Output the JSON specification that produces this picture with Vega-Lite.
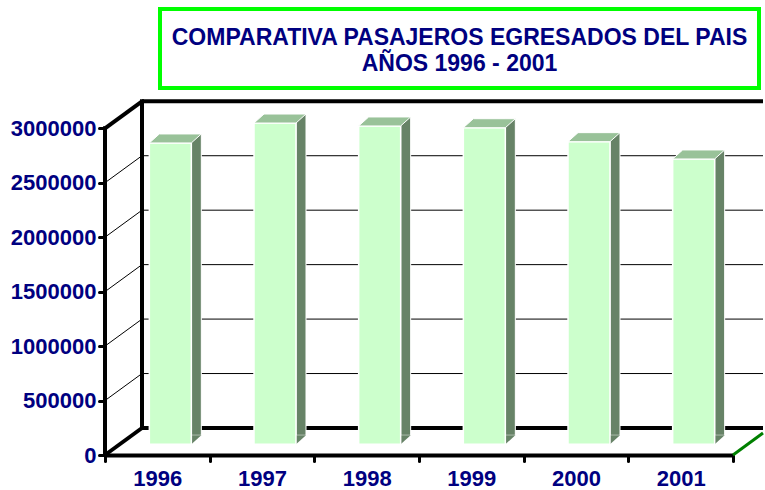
{
  "$schema": "https://vega.github.io/schema/vega-lite/v6.json",
  "padding": {"left": 10, "top": 7, "right": 0, "bottom": 0},
  "background": "white",
  "config": {"view": {"stroke": null}, "font": "Liberation Sans"},
  "bounds": "full",
  "spacing": 3,
  "datasets": {
    "pax": [
      {"year": "1996", "v": 2767000},
      {"year": "1997", "v": 2950000},
      {"year": "1998", "v": 2923000},
      {"year": "1999", "v": 2907000},
      {"year": "2000", "v": 2779000},
      {"year": "2001", "v": 2620000}
    ],
    "ticks": [
      {"year": "1996", "v": 0},
      {"year": "1996", "v": 500000},
      {"year": "1996", "v": 1000000},
      {"year": "1996", "v": 1500000},
      {"year": "1996", "v": 2000000},
      {"year": "1996", "v": 2500000},
      {"year": "1996", "v": 3000000}
    ],
    "edge": [{"year": "1996", "v": 0, "v2": 3000000}],
    "corner": [{"year": "2001", "v": 0}]
  },
  "vconcat": [
    {
      "hconcat": [
        {"width": 55, "height": 79, "data": {"values": []}, "mark": "point"},
        {
          "width": 599,
          "height": 79,
          "view": {"stroke": "#00FF00", "strokeWidth": 4},
          "data": {"values": [{"t": ["COMPARATIVA PASAJEROS EGRESADOS DEL PAIS", "AÑOS 1996 - 2001"]}]},
          "mark": {"type": "text", "font": "Liberation Sans", "fontWeight": "bold", "fontSize": 23, "color": "#000080", "lineHeight": 26.5, "baseline": "middle", "align": "center", "dy": -11},
          "encoding": {"text": {"field": "t"}}
        }
      ],
      "spacing": 0,
      "bounds": "flush"
    },
    {
      "width": 658,
      "height": 357,
      "layer": [
        {
          "data": {"name": "ticks"},
          "transform": [{"filter": "datum.v > 0 && datum.v < 3000000"}],
          "mark": {"type": "point", "shape": "M0 0 L621 0", "size": 4, "filled": false, "color": "black", "strokeWidth": 1, "opacity": 1, "xOffset": 37, "yOffset": -27},
          "encoding": {
            "x": {
              "field": "year", "type": "nominal", "title": null, "bandPosition": 0,
              "scale": {"type": "band", "range": [0, 628], "paddingInner": 0, "paddingOuter": 0},
              "axis": {"title": null, "bandPosition": 0.5, "domainWidth": 4, "domainColor": "black", "tickBand": "extent", "tickSize": 6, "tickWidth": 3, "tickColor": "black", "tickCap": "round", "labelFont": "Liberation Sans", "labelFontSize": 22, "labelFontWeight": "bold", "labelColor": "#000080", "labelPadding": 7, "labelAngle": 0, "labelAlign": "center", "labelBaseline": "top"}
            },
            "y": {
              "field": "v", "type": "quantitative", "title": null,
              "scale": {"domain": [0, 3278000], "nice": false, "zero": true},
              "axis": {"title": null, "values": [0, 500000, 1000000, 1500000, 2000000, 2500000, 3000000], "format": "d", "grid": false, "domain": false, "tickSize": 6, "tickWidth": 3, "tickColor": "black", "tickCap": "round", "labelFont": "Liberation Sans", "labelFontWeight": "bold", "labelFontSize": 22, "labelColor": "#000080", "labelPadding": 3}
            }
          }
        },
        {
          "data": {"name": "ticks"},
          "transform": [{"filter": "datum.v == 0 || datum.v == 3000000"}],
          "mark": {"type": "point", "shape": "M0 0 L621 0", "size": 4, "filled": false, "color": "black", "strokeWidth": 4, "opacity": 1, "xOffset": 37, "yOffset": -27},
          "encoding": {
            "x": {"field": "year", "type": "nominal", "title": null, "bandPosition": 0, "scale": {"type": "band", "range": [0, 628], "paddingInner": 0, "paddingOuter": 0}},
            "y": {"field": "v", "type": "quantitative", "title": null, "scale": {"domain": [0, 3278000], "nice": false, "zero": true}}
          }
        },
        {
          "data": {"name": "edge"},
          "mark": {"type": "rule", "color": "black", "strokeWidth": 4, "xOffset": 37, "yOffset": -27, "y2Offset": -27, "strokeCap": "square"},
          "encoding": {
            "x": {"field": "year", "type": "nominal", "title": null, "bandPosition": 0, "scale": {"type": "band", "range": [0, 628], "paddingInner": 0, "paddingOuter": 0}},
            "y": {"field": "v", "type": "quantitative", "title": null, "scale": {"domain": [0, 3278000], "nice": false, "zero": true}},
            "y2": {"field": "v2"}
          }
        },
        {
          "data": {"name": "edge"},
          "mark": {"type": "rule", "color": "black", "strokeWidth": 4, "strokeCap": "square"},
          "encoding": {
            "x": {"field": "year", "type": "nominal", "title": null, "bandPosition": 0, "scale": {"type": "band", "range": [0, 628], "paddingInner": 0, "paddingOuter": 0}},
            "y": {"field": "v", "type": "quantitative", "title": null, "scale": {"domain": [0, 3278000], "nice": false, "zero": true}},
            "y2": {"field": "v2"}
          }
        },
        {
          "data": {"name": "ticks"},
          "transform": [{"filter": "datum.v > 0 && datum.v < 3000000"}],
          "mark": {"type": "point", "shape": "M0 0 L37 -27", "size": 4, "filled": false, "color": "black", "strokeWidth": 1, "opacity": 1},
          "encoding": {
            "x": {"field": "year", "type": "nominal", "title": null, "bandPosition": 0, "scale": {"type": "band", "range": [0, 628], "paddingInner": 0, "paddingOuter": 0}},
            "y": {"field": "v", "type": "quantitative", "title": null, "scale": {"domain": [0, 3278000], "nice": false, "zero": true}}
          }
        },
        {
          "data": {"name": "ticks"},
          "transform": [{"filter": "datum.v == 0 || datum.v == 3000000"}],
          "mark": {"type": "point", "shape": "M0 0 L37 -27", "size": 4, "filled": false, "color": "black", "strokeWidth": 4, "opacity": 1},
          "encoding": {
            "x": {"field": "year", "type": "nominal", "title": null, "bandPosition": 0, "scale": {"type": "band", "range": [0, 628], "paddingInner": 0, "paddingOuter": 0}},
            "y": {"field": "v", "type": "quantitative", "title": null, "scale": {"domain": [0, 3278000], "nice": false, "zero": true}}
          }
        },
        {
          "data": {"name": "pax"},
          "mark": {"type": "bar", "width": 10, "xOffset": 39, "yOffset": -19.7, "y2Offset": -19.7, "fill": "#678367", "stroke": "white", "strokeWidth": 1},
          "encoding": {
            "x": {"field": "year", "type": "nominal", "title": null, "scale": {"type": "band", "range": [0, 628], "paddingInner": 0, "paddingOuter": 0}},
            "y": {"field": "v", "type": "quantitative", "title": null, "scale": {"domain": [0, 3278000], "nice": false, "zero": true}}
          }
        },
        {
          "data": {"name": "pax"},
          "mark": {"type": "point", "shape": "M21 0 L21 -9 L31 -9 Z", "size": 4, "filled": true, "fill": "#678367", "opacity": 1, "xOffset": 13, "yOffset": -10.7},
          "encoding": {
            "x": {"field": "year", "type": "nominal", "title": null, "scale": {"type": "band", "range": [0, 628], "paddingInner": 0, "paddingOuter": 0}},
            "y": {"datum": 0, "type": "quantitative", "scale": {"domain": [0, 3278000], "nice": false, "zero": true}}
          }
        },
        {
          "data": {"name": "pax"},
          "mark": {"type": "bar", "width": 42, "xOffset": 13, "yOffset": -10.7, "y2Offset": -10.7, "fill": "#CCFFCC", "stroke": "white", "strokeWidth": 1.5},
          "encoding": {
            "x": {"field": "year", "type": "nominal", "title": null, "scale": {"type": "band", "range": [0, 628], "paddingInner": 0, "paddingOuter": 0}},
            "y": {"field": "v", "type": "quantitative", "title": null, "scale": {"domain": [0, 3278000], "nice": false, "zero": true}}
          }
        },
        {
          "data": {"name": "pax"},
          "mark": {"type": "point", "shape": "M-21 0 L21 0 L31 -9 L-11 -9 Z", "size": 4, "filled": true, "fill": "#99C299", "stroke": "white", "strokeWidth": 1, "opacity": 1, "xOffset": 13, "yOffset": -10.7},
          "encoding": {
            "x": {"field": "year", "type": "nominal", "title": null, "scale": {"type": "band", "range": [0, 628], "paddingInner": 0, "paddingOuter": 0}},
            "y": {"field": "v", "type": "quantitative", "title": null, "scale": {"domain": [0, 3278000], "nice": false, "zero": true}}
          }
        },
        {
          "data": {"name": "corner"},
          "mark": {"type": "point", "shape": "M0 0 L30 -22", "size": 4, "filled": false, "color": "#008000", "strokeWidth": 3, "opacity": 1},
          "encoding": {
            "x": {"field": "year", "type": "nominal", "title": null, "bandPosition": 1, "scale": {"type": "band", "range": [0, 628], "paddingInner": 0, "paddingOuter": 0}},
            "y": {"field": "v", "type": "quantitative", "title": null, "scale": {"domain": [0, 3278000], "nice": false, "zero": true}}
          }
        }
      ]
    }
  ]
}
